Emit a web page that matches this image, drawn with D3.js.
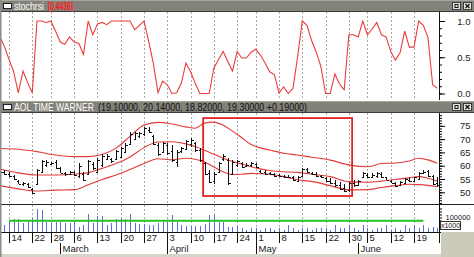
<!DOCTYPE html>
<html>
<head>
<meta charset="utf-8">
<script src="https://cdn.jsdelivr.net/npm/d3@7"></script>
<style>
body { margin: 0; background: #fff; }
svg { display: block; font-family: "Liberation Sans", Arial, sans-serif; }
.axisLabel { font-size: 9.5px; fill: #222; }
</style>
</head>
<body>
<div id="main"></div>
<script>
// ---- data (one entry per trading day) ----
const stochrsi = [0.79,0.65,0.47,0.30,0.01,0.31,0.15,0.01,1.0,1.0,
  0.98,1.0,0.86,0.71,0.68,0.78,0.71,0.69,0.54,1.0,
  0.81,0.96,0.98,0.95,1.0,1.0,1.0,1.0,1.0,0.88,
  0.94,1.0,0.72,0.42,0.01,0.17,0.12,0.0,0.01,0.14,
  0.42,0.30,0.14,0.0,0.0,0.0,0.35,0.47,0.58,0.44,
  0.31,0.58,0.49,0.49,0.57,0.61,0.53,0.42,0.30,0.26,
  0.01,0.09,0.0,0.07,0.51,1.0,0.94,0.73,0.57,0.37,
  0.0,0.0,0.27,0.13,0.05,0.81,0.81,0.78,1.0,0.81,
  0.89,0.98,0.81,0.78,0.58,0.46,0.56,0.86,0.64,0.64,
  1.0,0.94,0.77,0.12,0.07];

const priceOpen = [58.6,57.8,57.0,56.2,54.4,53.2,53.2,51.2,53.0,57.6,
  60.2,60.6,61.5,59.2,57.2,57.0,57.6,56.0,57.0,57.0,
  60.6,57.8,60.2,62.6,62.6,62.4,63.4,65.2,68.2,70.2,
  71.0,71.8,73.6,71.0,67.8,65.2,67.8,65.4,61.4,65.4,
  66.4,68.2,68.6,65.8,61.0,57.2,54.2,57.6,62.4,62.2,
  56.8,60.4,61.0,60.0,60.2,60.6,58.0,57.8,57.4,56.8,
  56.4,56.2,55.8,55.8,54.4,56.2,58.6,57.4,57.0,56.0,
  55.4,54.4,53.6,52.8,51.6,50.8,53.4,52.8,55.6,56.6,
  55.8,56.0,57.0,55.6,54.4,53.6,52.8,53.6,54.8,54.2,
  55.0,57.4,58.0,56.2,53.4];
const priceHigh = [59.0,58.4,57.5,56.5,54.6,53.8,53.4,51.5,58.8,62.1,
  62.1,61.5,62.1,59.6,57.5,58.0,58.0,60.9,57.5,62.1,
  61.5,62.8,64.3,64.3,63.0,65.9,67.1,68.4,72.6,72.8,
  72.8,74.7,74.7,71.5,68.4,69.0,68.4,67.8,65.9,67.1,
  69.7,70.3,69.0,66.5,61.5,58.4,57.5,61.5,64.3,62.8,
  62.1,62.1,61.5,60.9,61.5,60.9,58.4,58.4,57.7,57.1,
  56.8,56.5,56.5,56.2,56.2,59.2,59.0,57.7,57.5,56.5,
  55.9,55.5,54.6,53.8,53.0,54.0,54.6,54.6,57.7,57.1,
  57.1,57.7,57.7,55.9,54.6,54.0,54.2,55.3,55.5,55.9,
  57.7,58.4,58.4,56.5,55.9];
const priceLow = [57.5,56.5,55.9,54.6,53.0,52.5,51.7,49.2,52.7,57.1,
  59.6,60.3,58.8,57.1,56.2,56.8,56.2,55.3,54.2,56.5,
  58.4,57.1,59.6,62.1,60.9,62.1,62.8,64.7,67.8,69.7,
  70.3,71.3,72.2,67.7,63.8,64.7,64.1,61.5,59.6,64.7,
  65.9,67.1,65.3,61.5,56.5,53.4,53.0,57.1,61.8,52.7,
  56.5,59.6,59.0,59.6,59.6,59.0,57.1,56.5,56.5,55.9,
  55.9,55.3,55.3,54.2,54.0,55.9,57.1,56.5,55.9,55.3,
  53.8,53.0,52.1,50.9,50.2,50.2,52.1,52.5,55.3,55.3,
  55.3,55.4,55.3,54.6,53.4,52.1,52.7,53.4,53.8,54.0,
  54.6,57.1,55.9,52.7,52.1];
const priceClose = [57.8,56.8,56.2,55.0,53.3,53.4,52.0,49.8,58.4,61.6,
  61.4,61.2,59.2,57.4,56.8,57.6,56.6,60.0,54.8,61.6,
  59.0,62.2,63.6,63.8,61.6,65.4,66.6,67.8,72.0,72.2,
  72.2,74.2,72.8,68.2,64.4,68.4,64.8,62.2,65.2,66.6,
  69.2,69.8,65.8,62.0,57.0,54.0,57.0,61.0,63.8,53.4,
  61.4,61.6,59.6,60.4,61.0,59.4,57.4,56.8,56.8,56.2,
  56.2,55.6,55.6,54.6,55.8,58.8,57.6,56.8,56.2,55.6,
  54.2,53.4,52.6,51.4,50.6,53.6,52.6,54.2,57.2,55.8,
  56.6,57.2,55.6,54.8,53.6,52.4,53.8,55.0,54.2,55.6,
  57.4,57.8,56.2,53.2,52.6];

// bollinger bands, read at these day indices
const bandIdx = [0,4,8,12,16,19,22,25,28,31,34,37,40,42,44,46,48,50,52,54,56,58,61,64,67,71,75,79,82,85,88,90,92,94];
const bandUpper = [66.5,66.2,65.3,64.0,63.4,63.4,64.2,66.6,71.0,75.3,76.3,75.7,74.6,74.1,76.0,76.4,75.2,73.0,70.5,68.0,66.7,65.9,64.7,64.0,63.2,62.1,60.3,59.6,60.8,61.0,61.8,62.8,62.2,60.9];
const bandMiddle = [58.8,57.3,56.5,56.5,56.8,57.4,59.0,60.8,63.3,66.8,68.9,69.0,68.2,67.2,65.8,64.3,62.8,61.6,60.6,59.6,58.8,58.2,57.7,57.5,56.8,55.9,54.0,53.8,54.2,54.8,55.5,55.9,55.3,54.2];
const bandLower = [52.5,51.3,50.5,50.8,51.0,52.8,54.8,56.5,58.6,60.8,62.6,62.2,62.8,62.4,61.4,59.5,57.7,56.7,56.8,57.1,57.0,56.8,55.9,54.7,54.1,52.5,50.9,51.0,51.8,52.5,53.0,52.9,52.6,52.1];

// volume (x1000)
const volume = [100000,128000,212000,222000,222000,155000,167000,238000,388000,375000,
  183000,155000,167000,167000,155000,155000,183000,88000,128000,312000,
  155000,267000,267000,128000,155000,222000,238000,222000,312000,155000,
  145000,145000,128000,128000,155000,183000,167000,295000,167000,128000,
  112000,112000,112000,112000,138000,288000,288000,183000,183000,100000,
  100000,112000,67000,50000,83000,67000,50000,67000,83000,50000,
  67000,50000,117000,67000,50000,83000,67000,50000,67000,83000,
  67000,50000,117000,67000,83000,117000,67000,50000,117000,67000,
  50000,67000,83000,117000,50000,67000,50000,117000,67000,117000,
  83000,117000,67000,100000,83000];
const volumeAvg = 195000;
const volumeAvgSpan = [2, 91];

// date axis
const dayLabels = ["14","22","28","6","13","20","27","3","10","17","24","1","8","15","22","30","5","12","19"];
const dayIdx = [2,7,11,16,21,26,31,36,41,46,51,55,60,65,70,75,79,84,89];
const monthLabels = ["March","April","May","June"];
const monthIdx = [13,36,55,77];

// the red box somebody drew on the chart
const boxIdx = [43.7, 75.7];
const boxPrice = [77.9, 48.6];

const W = 474, H = 257;
const axisX = 439.5;
const stochTop = 12, stochBottom = 100;
const priceTop = 113, priceBottom = 204;
const volTop = 205, volBottom = 232.5;

const svg = d3.select('#main').append('svg').attr('width', W).attr('height', H);

const scaleX = d3.scaleLinear().domain([0, 94]).range([-0.3, 437.3]);
const scaleXr = scaleX.copy().interpolate(d3.interpolateRound);
const px = i => scaleXr(i) + 0.5;

const yStoch = d3.scaleLinear().domain([0, 1]).range([93.5, 21]);
const yPrice = d3.scaleLinear().domain([50, 75]).range([192.3, 125.8]);
const yVol = d3.scaleLinear().domain([0, 400000]).range([volBottom, 208.5]);

svg.append('rect').attr('width', W).attr('height', H).attr('fill', '#fff');

// clip paths for the three panes
const defs = svg.append('defs');
[['clipStoch', stochTop, stochBottom], ['clipPrice', priceTop, priceBottom], ['clipVol', volTop, volBottom]].forEach(c => {
  defs.append('clipPath').attr('id', c[0]).append('rect')
    .attr('x', 1).attr('y', c[1]).attr('width', axisX - 1).attr('height', c[2] - c[1]);
});

// title bars
function titleBar(y, h) {
  svg.append('rect').attr('x', 0).attr('y', y).attr('width', W).attr('height', h).attr('fill', '#82817a');
  svg.append('line').attr('x1', 0).attr('x2', W).attr('y1', y + 0.5).attr('y2', y + 0.5).attr('stroke', '#a6a59e');
  svg.append('line').attr('x1', 0).attr('x2', W).attr('y1', y + h - 0.5).attr('y2', y + h - 0.5).attr('stroke', '#3c3c3c');
  // little window icon
  svg.append('rect').attr('x', 3.5).attr('y', y + 3.5).attr('width', 8).attr('height', 5).attr('fill', '#fff').attr('stroke', '#222');
  // buttons on the right
  [452.5, 463.5].forEach((bx, k) => {
    svg.append('rect').attr('x', bx).attr('y', y + 2.5).attr('width', 8).attr('height', 7).attr('fill', '#e4e4dc').attr('stroke', '#3a3a3a');
    if (k == 0) {
      svg.append('rect').attr('x', bx + 2.5).attr('y', y + 4.5).attr('width', 3).attr('height', 3).attr('fill', 'none').attr('stroke', '#111');
    } else {
      svg.append('path').attr('d', `M${bx + 2},${y + 4}L${bx + 6},${y + 8}M${bx + 6},${y + 4}L${bx + 2},${y + 8}`).attr('stroke', '#111').attr('stroke-width', 1.3);
    }
  });
}

titleBar(0, 12);
titleBar(101, 12);

svg.append('text').attr('x', 14).attr('y', 9.5).text('stochrsi')
  .attr('fill', '#fff').attr('font-size', 10).attr('textLength', 30).attr('lengthAdjust', 'spacingAndGlyphs');
svg.append('text').attr('x', 48).attr('y', 9.5).text('[0.4436]')
  .attr('fill', '#ff1a1a').attr('font-size', 10).attr('font-weight', 'bold')
  .attr('textLength', 25).attr('lengthAdjust', 'spacingAndGlyphs');

svg.append('text').attr('x', 14).attr('y', 110.5).text('AOL TIME WARNER')
  .attr('fill', '#fff').attr('font-size', 10).attr('textLength', 80).attr('lengthAdjust', 'spacingAndGlyphs');
svg.append('text').attr('x', 98).attr('y', 110.5).text('(19.10000, 20.14000, 18.82000, 19.30000 +0.19000)')
  .attr('fill', '#111').attr('font-size', 10).attr('textLength', 209).attr('lengthAdjust', 'spacingAndGlyphs');

// dashed week grid lines
[[stochTop, stochBottom], [priceTop, priceBottom], [volTop, volBottom]].forEach(p => {
  svg.append('g').selectAll('line').data(dayIdx).join('line')
    .attr('x1', d => px(d)).attr('x2', d => px(d))
    .attr('y1', p[0]).attr('y2', p[1])
    .attr('stroke', '#a9a9a9').attr('stroke-dasharray', '2,2');
});

// ---- stochrsi pane ----
const stochLine = d3.line().x((d, i) => scaleX(i)).y(d => yStoch(d));
svg.append('path').datum(stochrsi).attr('d', stochLine)
  .attr('fill', 'none').attr('stroke', '#ec3b3b').attr('stroke-width', 1.1)
  .attr('clip-path', 'url(#clipStoch)');

// ---- price pane ----
const priceG = svg.append('g').attr('clip-path', 'url(#clipPrice)');
const bandLine = d3.line().x(d => scaleX(d[0])).y(d => yPrice(d[1])).curve(d3.curveMonotoneX);
[bandUpper, bandMiddle, bandLower].forEach(band => {
  priceG.append('path').datum(bandIdx.map((d, k) => [d, band[k]])).attr('d', bandLine)
    .attr('fill', 'none').attr('stroke', '#e23a3a').attr('stroke-width', 1.1);
});

const bars = priceG.selectAll('g.bar').data(priceHigh).join('g').attr('class', 'bar')
  .attr('stroke', '#111').attr('shape-rendering', 'crispEdges');
bars.append('line').attr('x1', (d, i) => px(i)).attr('x2', (d, i) => px(i))
  .attr('y1', (d, i) => yPrice(priceHigh[i])).attr('y2', (d, i) => yPrice(priceLow[i]));
bars.append('line').attr('x1', (d, i) => px(i) - 2).attr('x2', (d, i) => px(i))
  .attr('y1', (d, i) => Math.round(yPrice(priceOpen[i])) + 0.5).attr('y2', (d, i) => Math.round(yPrice(priceOpen[i])) + 0.5);
bars.append('line').attr('x1', (d, i) => px(i)).attr('x2', (d, i) => px(i) + 2)
  .attr('y1', (d, i) => Math.round(yPrice(priceClose[i])) + 0.5).attr('y2', (d, i) => Math.round(yPrice(priceClose[i])) + 0.5);

svg.append('rect')
  .attr('x', scaleX(boxIdx[0])).attr('y', yPrice(boxPrice[0]))
  .attr('width', scaleX(boxIdx[1]) - scaleX(boxIdx[0]))
  .attr('height', yPrice(boxPrice[1]) - yPrice(boxPrice[0]))
  .attr('fill', 'none').attr('stroke', '#e02424').attr('stroke-width', 1.8);

// ---- volume pane ----
svg.append('g').attr('clip-path', 'url(#clipVol)').selectAll('line').data(volume).join('line')
  .attr('x1', (d, i) => px(i)).attr('x2', (d, i) => px(i))
  .attr('y1', yVol(0)).attr('y2', d => yVol(d))
  .attr('stroke', '#5b6fd4').attr('shape-rendering', 'crispEdges');

svg.append('line')
  .attr('x1', scaleX(volumeAvgSpan[0])).attr('x2', scaleX(volumeAvgSpan[1]))
  .attr('y1', yVol(volumeAvg)).attr('y2', yVol(volumeAvg))
  .attr('stroke', '#22c322').attr('stroke-width', 2);

// pane separators
svg.append('line').attr('x1', 0).attr('x2', W).attr('y1', priceBottom + 0.5).attr('y2', priceBottom + 0.5).attr('stroke', '#222');

// ---- right axes ----
svg.append('line').attr('x1', axisX).attr('x2', axisX).attr('y1', stochTop).attr('y2', stochBottom).attr('stroke', '#111');
svg.append('line').attr('x1', axisX).attr('x2', axisX).attr('y1', priceTop).attr('y2', priceBottom).attr('stroke', '#111');
svg.append('line').attr('x1', axisX).attr('x2', axisX).attr('y1', volTop).attr('y2', volBottom).attr('stroke', '#111');

function rightAxis(scale, minor, major, fmt) {
  const g1 = svg.append('g').attr('transform', `translate(${axisX - 0.5},0)`)
    .call(d3.axisRight(scale).tickValues(minor).tickSize(3).tickFormat(''));
  g1.select('.domain').remove();
  const g2 = svg.append('g').attr('transform', `translate(${axisX - 0.5},0)`)
    .call(d3.axisRight(scale).tickValues(major).tickSize(6).tickFormat(fmt));
  g2.select('.domain').remove();
  g2.selectAll('text').attr('x', 31.5).attr('text-anchor', 'end')
    .attr('class', 'axisLabel').attr('font-family', null).attr('font-size', null);
  return g2;
}

rightAxis(yStoch, d3.range(0, 11).map(d => d / 10), [0, 0.5, 1], d3.format('.1f'));
rightAxis(yPrice, d3.range(46, 80), [50, 55, 60, 65, 70, 75], d3.format('d'));
const volAxis = rightAxis(yVol, [150000, 200000, 250000, 300000, 350000, 400000], [100000], d3.format('d'));
// the volume label sits just above the x1000 box
volAxis.selectAll('text').attr('dy', null).attr('y', -7.5).style('font-size', '7.5px');

// x1000 box
svg.append('rect').attr('x', 440.5).attr('y', 221.5).attr('width', 20).attr('height', 8)
  .attr('fill', '#fff').attr('stroke', '#333');
svg.append('text').attr('x', 450.5).attr('y', 228).text('x1000')
  .attr('font-size', 7).attr('text-anchor', 'middle').attr('fill', '#111');

// ---- date axis ----
svg.append('rect').attr('x', 0).attr('y', 254).attr('width', W).attr('height', 3).attr('fill', '#d6d3ca');
svg.append('rect').attr('x', 441).attr('y', 232).attr('width', W - 441).attr('height', H - 232).attr('fill', '#cbcabb');
svg.append('line').attr('x1', 0).attr('x2', 441).attr('y1', volBottom).attr('y2', volBottom).attr('stroke', '#111');
svg.append('line').attr('x1', axisX).attr('x2', axisX).attr('y1', volBottom).attr('y2', 243).attr('stroke', '#111');

const dayAxis = svg.append('g').attr('transform', `translate(0,${volBottom - 0.5})`)
  .call(d3.axisBottom(scaleXr).tickValues(dayIdx).tickSize(11).tickFormat((d, i) => dayLabels[i]));
dayAxis.select('.domain').remove();
dayAxis.selectAll('line').attr('stroke', '#111');
dayAxis.selectAll('text').attr('x', 2).attr('y', 2).attr('dy', '0.71em').attr('text-anchor', 'start')
  .attr('class', 'axisLabel').attr('font-family', null).attr('font-size', null);

const monthAxis = svg.append('g').attr('transform', 'translate(0,243)')
  .call(d3.axisBottom(scaleXr).tickValues(monthIdx).tickSize(11).tickFormat((d, i) => monthLabels[i]));
monthAxis.select('.domain').remove();
monthAxis.selectAll('line').attr('stroke', '#111');
monthAxis.selectAll('text').attr('x', 2).attr('y', 2).attr('dy', '0.71em').attr('text-anchor', 'start')
  .attr('class', 'axisLabel').attr('font-family', null).attr('font-size', null);

// left window border
svg.append('rect').attr('x', 0).attr('y', 0).attr('width', 1.5).attr('height', H).attr('fill', '#8c8c8c');
</script>
</body>
</html>
